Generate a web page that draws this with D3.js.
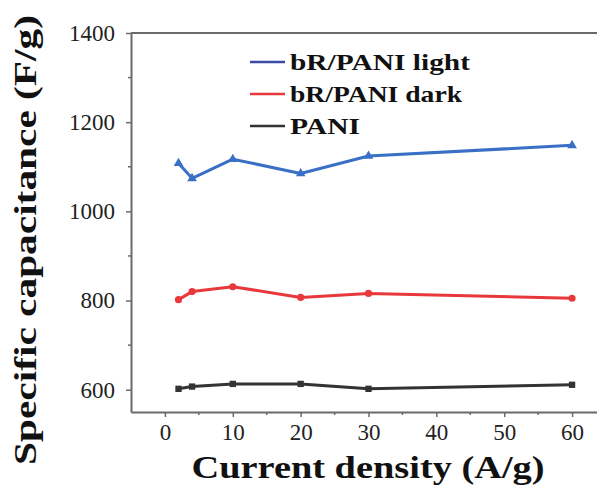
<!DOCTYPE html>
<html><head><meta charset="utf-8">
<script src="https://cdn.jsdelivr.net/npm/d3@7"></script>
<style>body{margin:0;background:#fff}svg{display:block}svg text{font-family:"Liberation Serif","Times New Roman","DejaVu Serif",serif}</style>
</head><body>
<script>
const currentDensity = [2, 4, 10, 20, 30, 60];
const lightValues = [1108, 1074, 1117, 1085, 1124, 1148];
const darkValues = [802, 820, 831, 807, 816, 805];
const paniValues = [602, 607, 613, 613, 602, 611];
const seriesNames = ["bR/PANI light", "bR/PANI dark", "PANI"];
const seriesColors = ["#3a6fc6", "#e8383c", "#333333"];
const xTicks = [0, 10, 20, 30, 40, 50, 60];
const yTicks = [600, 800, 1000, 1200, 1400];

const W = 597, H = 494;
const svg = d3.select("body").append("svg").attr("width", W).attr("height", H);
const x = d3.scaleLinear().domain([-5, 65]).range([131, 606]);
const y = d3.scaleLinear().domain([550, 1400]).range([412, 33]);

const axisColor = "#6a6a6a";
const xAxis = svg.append("g").attr("transform", "translate(0,412)")
  .call(d3.axisBottom(x).tickValues(xTicks).tickFormat(d3.format("d")).tickSize(5).tickSizeOuter(0).tickPadding(7));
const yAxis = svg.append("g").attr("transform", "translate(131,0)")
  .call(d3.axisLeft(y).tickValues(yTicks).tickFormat(d3.format("d")).tickSize(5).tickSizeOuter(0).tickPadding(11));
[xAxis, yAxis].forEach(g => {
  g.attr("font-family", null);
  g.select(".domain").attr("stroke", axisColor).attr("stroke-width", 2);
  g.selectAll(".tick line").attr("stroke", axisColor).attr("stroke-width", 1.5);
  g.selectAll(".tick text").attr("font-size", 23).attr("fill", "#222");
});
svg.append("line").attr("x1", 131).attr("x2", 606).attr("y1", y(1400)).attr("y2", y(1400))
  .attr("stroke", axisColor).attr("stroke-width", 2);
const xMinor = xTicks.slice(0, -1).map(v => v + 5);
svg.append("g").selectAll("line").data(xMinor).join("line")
  .attr("x1", d => x(d)).attr("x2", d => x(d)).attr("y1", 412).attr("y2", 415)
  .attr("stroke", axisColor).attr("stroke-width", 1.5);
const yMinor = yTicks.slice(0, -1).map(v => v + 100);
svg.append("g").selectAll("line").data(yMinor).join("line")
  .attr("x1", 128).attr("x2", 131).attr("y1", d => y(d)).attr("y2", d => y(d))
  .attr("stroke", axisColor).attr("stroke-width", 1.5);

const allValues = [lightValues, darkValues, paniValues];
const line = d3.line().x(d => x(d[0])).y(d => y(d[1]));
const symbols = [d3.symbolTriangle, d3.symbolCircle, d3.symbolSquare];
allValues.forEach((vals, i) => {
  const pts = currentDensity.map((c, j) => [c, vals[j]]);
  svg.append("path").datum(pts).attr("d", line).attr("fill", "none")
    .attr("stroke", seriesColors[i]).attr("stroke-width", 3).attr("stroke-linejoin", "round");
  svg.append("g").selectAll("path").data(pts).join("path")
    .attr("transform", d => `translate(${x(d[0])},${y(d[1])})`)
    .attr("d", d3.symbol().type(symbols[i]).size(40))
    .attr("fill", seriesColors[i]);
});

const legendColors = ["#3b4aa8", "#e8383c", "#333333"];
const legendWidths = [180, 172, 70];
const leg = svg.append("g");
seriesNames.forEach((n, i) => {
  const yy = 62 + i * 32;
  leg.append("line").attr("x1", 250).attr("x2", 285).attr("y1", yy).attr("y2", yy)
    .attr("stroke", legendColors[i]).attr("stroke-width", 2.5);
  leg.append("text").attr("x", 290).attr("y", yy + 8).text(n)
    .attr("font-weight", "bold").attr("font-size", 23).attr("fill", "#111")
    .attr("textLength", legendWidths[i]).attr("lengthAdjust", "spacingAndGlyphs");
});

svg.append("text").attr("x", 368).attr("y", 478).attr("text-anchor", "middle")
  .attr("font-weight", "bold").attr("font-size", 31).attr("fill", "#111")
  .attr("textLength", 353).attr("lengthAdjust", "spacingAndGlyphs")
  .text("Current density (A/g)");
svg.append("text").attr("transform", "translate(36,240) rotate(-90)").attr("text-anchor", "middle")
  .attr("font-weight", "bold").attr("font-size", 31).attr("fill", "#111")
  .attr("textLength", 450).attr("lengthAdjust", "spacingAndGlyphs")
  .text("Specific capacitance (F/g)");
</script>
</body></html>
